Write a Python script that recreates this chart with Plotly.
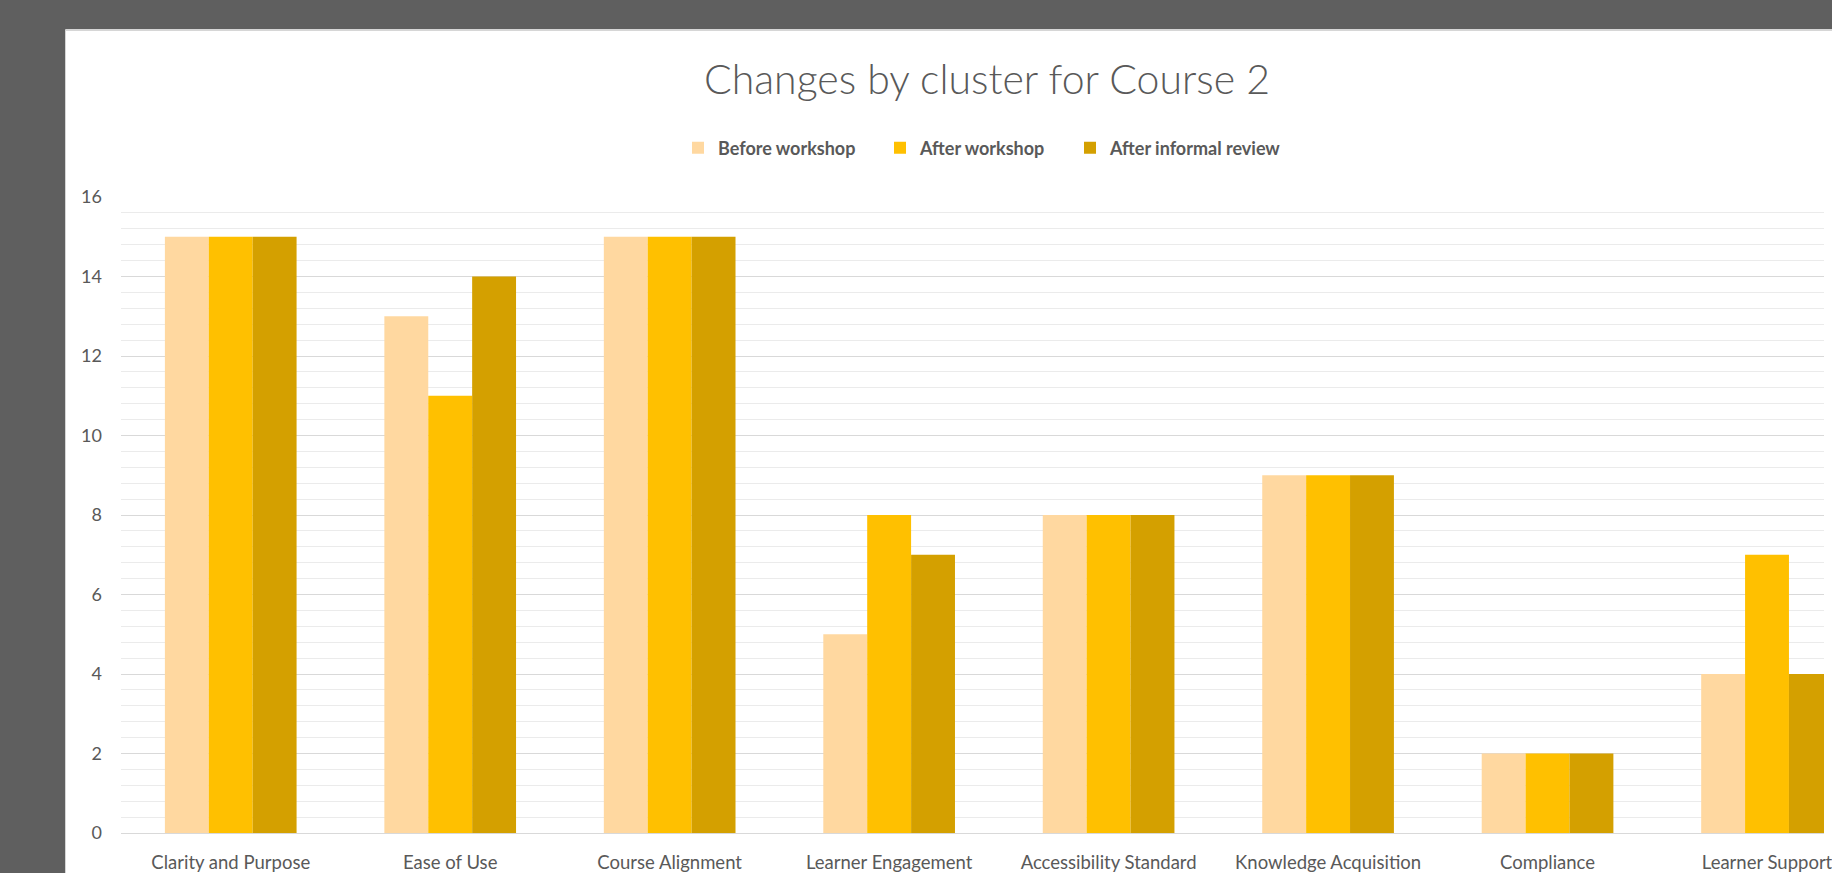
import plotly.graph_objects as go

categories = ["Clarity and Purpose", "Ease of Use", "Course Alignment", "Learner Engagement",
              "Accessibility Standard", "Knowledge Acquisition", "Compliance", "Learner Support"]
before_workshop = [15, 13, 15, 5, 8, 9, 2, 4]
after_workshop = [15, 11, 15, 8, 8, 9, 2, 7]
after_informal_review = [15, 14, 15, 7, 8, 9, 2, 4]
series_names = ["Before workshop", "After workshop", "After informal review"]
series_colors = ["#FFD8A0", "#FFC000", "#D4A000"]
y_ticks = [0, 2, 4, 6, 8, 10, 12, 14, 16]

W, H = 1832, 873
L, R, T, B = 121, 0, 197, 40
plot_w = W - L - R
plot_h = H - T - B
cat_px = 220.5

font_family = "Lato, 'Open Sans', sans-serif"
text_col = "#595959"

legend_ids = ["legend", "legend2", "legend3"]
legend_sq_left = [693, 895, 1085]

fig = go.Figure()
for name, vals, col, lid in zip(series_names, [before_workshop, after_workshop, after_informal_review],
                                series_colors, legend_ids):
    fig.add_trace(go.Bar(name=name, x=categories, y=vals, legend=lid,
                         marker=dict(color=col, line=dict(width=0))))

# white chart area on grey background
x0 = (65 - L) / plot_w
y1 = (H - B - 30) / plot_h
fig.add_shape(type="rect", xref="paper", yref="paper", x0=x0, x1=1.05, y0=-0.2, y1=y1,
              fillcolor="white", line=dict(width=0), layer="below")
fig.add_shape(type="line", xref="paper", yref="paper", x0=x0, x1=1.05, y0=y1, y1=y1,
              line=dict(color="#d6d6d6", width=2), layer="below")

legend_common = dict(orientation="h", xref="container", xanchor="left",
                     yref="container", y=1 - 148 / H, yanchor="middle",
                     font=dict(family=font_family, size=18, color=text_col, weight="bold"),
                     bgcolor="rgba(0,0,0,0)", borderwidth=0, itemwidth=30)
legend_layouts = {}
for lid, sq in zip(legend_ids, legend_sq_left):
    legend_layouts[lid] = dict(legend_common, x=(sq - 15) / W)

fig.update_layout(
    width=W, height=H,
    margin=dict(l=L, r=R, t=T, b=B),
    paper_bgcolor="#5f5f5f",
    plot_bgcolor="rgba(0,0,0,0)",
    barmode="group", bargap=0.4, bargroupgap=0,
    title=dict(text="Changes by cluster for Course 2", x=987 / W, xref="container", xanchor="center",
               y=1 - 80 / H, yref="container", yanchor="middle",
               font=dict(family=font_family, size=41, color=text_col, weight=300)),
    showlegend=True,
    xaxis=dict(range=[-0.5, -0.5 + plot_w / cat_px], showgrid=False, showline=True,
               linecolor="#d9d9d9", linewidth=1, ticks="", ticklabelstandoff=13,
               tickfont=dict(family=font_family, size=18.5, color=text_col), fixedrange=True),
    yaxis=dict(range=[0, 16], tickvals=y_ticks, showgrid=True, gridcolor="#d9d9d9", gridwidth=1,
               zeroline=False, showline=False, ticks="", ticklabelstandoff=18,
               minor=dict(dtick=0.4, showgrid=True, gridcolor="#ebebeb", gridwidth=1),
               tickfont=dict(family=font_family, size=18, color=text_col)),
    **legend_layouts,
)

fig.write_html("out.html", config={"displayModeBar": False},
               post_script="document.body.style.margin='0';document.body.style.overflow='hidden';")
